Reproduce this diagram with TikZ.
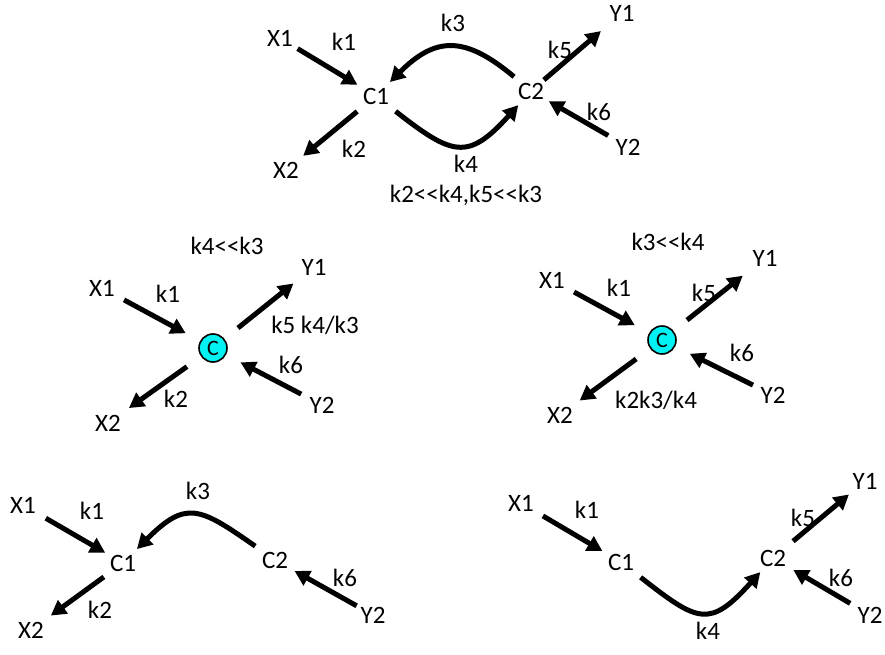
\documentclass[tikz,border=0pt]{standalone}
\usepackage{fontspec}
\setmainfont{Carlito}
\usepackage{tikz}
\usetikzlibrary{arrows.meta,positioning}
\definecolor{poolfill}{HTML}{00F2F2}

\begin{document}
\begin{tikzpicture}[
  x=1pt,y=1pt,
  every node/.style={font=\fontsize{25}{30}\selectfont},
  species/.style={inner sep=2pt},
  rate/.style={inner sep=1pt},
  pool/.style={circle,draw=black,line width=1.6pt,fill=poolfill,minimum size=28pt,
    inner sep=0pt,outer sep=12pt,font=\fontsize{22}{24}\selectfont},
  arrow/.style={-{Triangle[length=15pt,width=16pt]},line width=5pt,
    shorten <=6pt,shorten >=5pt}
]
\useasboundingbox (0,0) rectangle (885,-655);

\node[species] (x1t) at (280,-38) {X1};
\node[species] (c1t) at (376,-96) {C1};
\node[species] (c2t) at (531,-91) {C2};
\node[species] (y1t) at (622,-13) {Y1};
\node[species] (y2t) at (628,-147) {Y2};
\node[species] (x2t) at (286,-170) {X2};
\node[rate] (k1t) at (344,-42) {k1};
\node[rate] (k3t) at (453,-23) {k3};
\node[rate] (k5t) at (560,-50) {k5};
\node[rate] (k6t) at (599,-112) {k6};
\node[rate] (k2t) at (354,-149) {k2};
\node[rate] (k4t) at (466,-164) {k4};
\node[rate] (condt) at (466,-195) {k2<{}<k4,k5<{}<k3};
\draw[arrow,shorten <=3pt,shorten >=4pt] (x1t) -- (c1t);
\draw[arrow,shorten <=8pt,shorten >=6pt] (c1t) -- (x2t);
\draw[arrow,shorten <=1pt,shorten >=12pt] (c2t) -- (y1t);
\draw[arrow,shorten >=3pt] (y2t) -- (c2t);
\draw[arrow] (c2t) to[out=140,in=45,looseness=1.35] (c1t);
\draw[arrow,shorten <=8pt] (c1t) to[out=-38,in=228,looseness=1.55] (c2t);

\node[rate] (condl) at (227,-246) {k4<{}<k3};
\node[species] (x1l) at (102,-288) {X1};
\node[pool] (cl) at (213,-348) {C};
\node[species] (y1l) at (314,-267) {Y1};
\node[species] (y2l) at (322,-405) {Y2};
\node[species] (x2l) at (108,-423) {X2};
\node[rate] (k1l) at (168,-294) {k1};
\node[rate] (k5l) at (315,-325) {k5 k4/k3};
\node[rate] (k6l) at (291,-365) {k6};
\node[rate] (k2l) at (176,-399) {k2};
\draw[arrow,shorten <=8pt] (x1l) -- (cl);
\draw[arrow,shorten >=10pt] (cl) -- (y1l);
\draw[arrow,shorten <=7pt] (y2l) -- (cl);
\draw[arrow,shorten >=8pt] (cl) -- (x2l);

\node[rate] (condr) at (668,-242) {k3<{}<k4};
\node[species] (x1r) at (552,-280) {X1};
\node[pool] (cr) at (662,-340) {C};
\node[species] (y1r) at (765,-258) {Y1};
\node[species] (y2r) at (773,-395) {Y2};
\node[species] (x2r) at (560,-415) {X2};
\node[rate] (k1r) at (619,-288) {k1};
\node[rate] (k5r) at (704,-293) {k5};
\node[rate] (k6r) at (742,-353) {k6};
\node[rate] (k2r) at (656,-400) {k2k3/k4};
\draw[arrow,shorten <=8pt] (x1r) -- (cr);
\draw[arrow,shorten >=12pt] (cr) -- (y1r);
\draw[arrow,shorten <=6pt] (y2r) -- (cr);
\draw[arrow,shorten >=7pt] (cr) -- (x2r);

\node[species] (x1d) at (23,-505) {X1};
\node[species] (c1d) at (123,-563) {C1};
\node[species] (c2d) at (275,-560) {C2};
\node[species] (y2d) at (373,-615) {Y2};
\node[species] (x2d) at (31,-630) {X2};
\node[rate] (k1d) at (92,-511) {k1};
\node[rate] (k3d) at (198,-491) {k3};
\node[rate] (k6d) at (345,-578) {k6};
\node[rate] (k2d) at (100,-610) {k2};
\draw[arrow,shorten <=9pt,shorten >=3pt] (x1d) -- (c1d);
\draw[arrow,shorten <=2pt] (y2d) -- (c2d);
\draw[arrow,shorten >=7pt] (c1d) -- (x2d);
\draw[arrow] (c2d) to[out=145,in=45,looseness=1.5] (c1d);

\node[species] (x1e) at (521,-503) {X1};
\node[species] (c1e) at (621,-562) {C1};
\node[species] (c2e) at (773,-558) {C2};
\node[species] (y1e) at (865,-481) {Y1};
\node[species] (y2e) at (870,-615) {Y2};
\node[rate] (k1e) at (587,-510) {k1};
\node[rate] (k4e) at (708,-631) {k4};
\node[rate] (k5e) at (803,-518) {k5};
\node[rate] (k6e) at (841,-578) {k6};
\draw[arrow,shorten <=8pt,shorten >=4pt] (x1e) -- (c1e);
\draw[arrow,shorten <=10pt] (c2e) -- (y1e);
\draw[arrow,shorten >=6pt] (y2e) -- (c2e);
\draw[arrow,shorten <=8pt] (c1e) to[out=-38,in=228,looseness=1.6] (c2e);
\end{tikzpicture}
\end{document}
